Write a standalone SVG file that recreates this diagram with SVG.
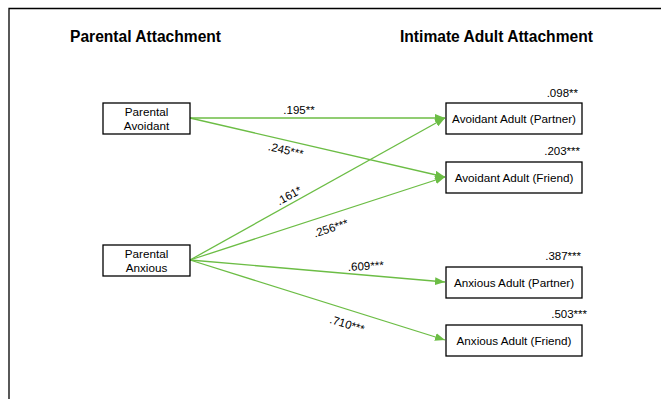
<svg xmlns="http://www.w3.org/2000/svg" width="661" height="399" viewBox="0 0 661 399">
<defs>
<marker id="ah" markerWidth="10" markerHeight="8" refX="10" refY="4" orient="auto" markerUnits="userSpaceOnUse">
<path d="M0,0 L10,4 L0,8 Z" fill="#6cbd45"/>
</marker>
<style>
.t{font-family:"Liberation Sans",Arial,sans-serif;font-weight:bold;font-size:15.6px;fill:#000}
.n{font-family:"Liberation Sans",Arial,sans-serif;font-size:11.7px;fill:#000}
.l{font-family:"Liberation Sans",Arial,sans-serif;font-size:11.5px;fill:#000}
.box{fill:#fff;stroke:#000;stroke-width:1.3}
.c{stroke:#6cbd45;stroke-width:1.3;fill:none}
</style>
</defs>
<rect width="661" height="399" fill="#fff"/>
<path d="M9,399 V8.5 H661" fill="none" stroke="#000" stroke-width="1.3"/>
<text class="t" x="70" y="42">Parental Attachment</text>
<text class="t" x="400" y="42">Intimate Adult Attachment</text>
<g id="connectors">
<line class="c" x1="190" y1="118" x2="445" y2="118" marker-end="url(#ah)"/>
<line class="c" x1="190" y1="118" x2="445" y2="177" marker-end="url(#ah)"/>
<line class="c" x1="190" y1="260" x2="445" y2="118" marker-end="url(#ah)"/>
<line class="c" x1="190" y1="260" x2="445" y2="177" marker-end="url(#ah)"/>
<line class="c" x1="190" y1="260" x2="445" y2="282" marker-end="url(#ah)"/>
<line class="c" x1="190" y1="260" x2="445" y2="340" marker-end="url(#ah)"/>
<text class="l" x="299" y="114" text-anchor="middle">.195**</text>
<text class="l" text-anchor="middle" transform="translate(285,154) rotate(13)">.245***</text>
<text class="l" text-anchor="middle" transform="translate(291,199) rotate(-29)">.161*</text>
<text class="l" text-anchor="middle" transform="translate(332,232) rotate(-18)">.256***</text>
<text class="l" text-anchor="middle" transform="translate(366,270) rotate(-3)">.609***</text>
<text class="l" text-anchor="middle" transform="translate(346,328) rotate(17)">.710***</text>
</g>
<g id="parental-avoidant">
<rect class="box" x="103" y="103" width="87" height="31"/>
<text class="n" x="146.5" y="116" text-anchor="middle">Parental</text>
<text class="n" x="146.5" y="130" text-anchor="middle">Avoidant</text>
</g>
<g id="parental-anxious">
<rect class="box" x="103" y="245" width="87" height="31"/>
<text class="n" x="146.5" y="258" text-anchor="middle">Parental</text>
<text class="n" x="146.5" y="272" text-anchor="middle">Anxious</text>
</g>
<g id="avoidant-partner">
<rect class="box" x="446" y="103" width="136" height="31"/>
<text class="n" x="514" y="123" text-anchor="middle">Avoidant Adult (Partner)</text>
<text class="l" x="578" y="97" text-anchor="end">.098**</text>
</g>
<g id="avoidant-friend">
<rect class="box" x="446" y="162" width="136" height="31"/>
<text class="n" x="514" y="182" text-anchor="middle">Avoidant Adult (Friend)</text>
<text class="l" x="580" y="155" text-anchor="end">.203***</text>
</g>
<g id="anxious-partner">
<rect class="box" x="446" y="267" width="136" height="31"/>
<text class="n" x="514" y="287" text-anchor="middle">Anxious Adult (Partner)</text>
<text class="l" x="581" y="260" text-anchor="end">.387***</text>
</g>
<g id="anxious-friend">
<rect class="box" x="446" y="325" width="136" height="31"/>
<text class="n" x="514" y="345" text-anchor="middle">Anxious Adult (Friend)</text>
<text class="l" x="587" y="318" text-anchor="end">.503***</text>
</g>
</svg>
